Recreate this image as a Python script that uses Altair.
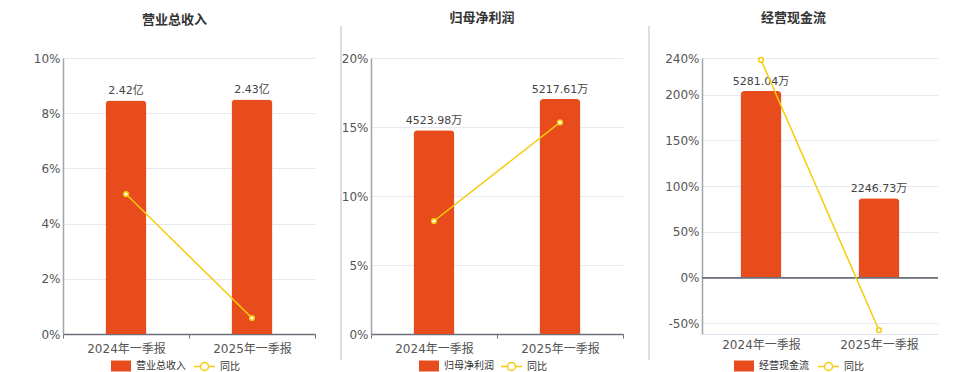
import altair as alt
import pandas as pd

periods = ["2024年一季报", "2025年一季报"]
titles = ["营业总收入", "归母净利润", "经营现金流"]
bar_values = [[2.42, 2.43], [4523.98, 5217.61], [5281.04, 2246.73]]
bar_labels = [["2.42亿", "2.43亿"], ["4523.98万", "5217.61万"], ["5281.04万", "2246.73万"]]
yoy = [[5.07, 0.58], [8.19, 15.33], [238.0, -57.46]]

pct_domains = [[0, 10], [0, 20], [-61.6, 240]]
pct_ticks = [[0, 2, 4, 6, 8, 10], [0, 5, 10, 15, 20], [-50, 0, 50, 100, 150, 200, 240]]
bar_domains = [[0, 2.86], [0, 6128], [-1593, 6215]]
widths = [252, 252, 236]
seps = [None, -30, -53]
title_offsets = [25, 0, 0]
legend_x = [(47, 130), (47, 129), (31, 115)]
LEG_Y = 297

RED = "#E84B1C"
YEL = "#F5CC0A"
FONT = "DejaVu Sans, Noto Sans CJK SC, sans-serif"
LEG_FONT = "Noto Sans CJK SC, DejaVu Sans, sans-serif"


def panel(i):
    df = pd.DataFrame({
        "period": periods,
        "value": bar_values[i],
        "label": bar_labels[i],
        "yoy": yoy[i],
        "name": titles[i],
        "tb": "同比",
    })
    base = alt.Chart(df)
    x_axis = alt.Axis(
        title=None, labelAngle=0, labelFontSize=12, labelColor="#555555", labelFont=FONT,
        labelPadding=5, tickBand="extent", ticks=(i < 2), tickSize=4, tickColor="#6E7079",
        domainColor="#6E7079" if i < 2 else "#E0E6F1", domainWidth=1.5 if i < 2 else 1, grid=False,
    )
    x = alt.X("period:N", sort=periods, scale=alt.Scale(paddingInner=0, paddingOuter=0), axis=x_axis)
    ybar = alt.Y("value:Q", scale=alt.Scale(domain=bar_domains[i], nice=False, zero=False), axis=None)

    bars = base.mark_bar(size=41, cornerRadiusTopLeft=4, cornerRadiusTopRight=4).encode(
        x=x, y=ybar,
        color=alt.Color("name:N", scale=alt.Scale(domain=[titles[i]], range=[RED]),
                        legend=alt.Legend(orient="none", legendX=legend_x[i][0], legendY=LEG_Y,
                                          title=None, direction="horizontal",
                                          symbolType="M-1,-0.55H1V0.55H-1Z", symbolSize=400,
                                          labelFontSize=10, labelColor="#333333", labelFont=LEG_FONT,
                                          symbolOpacity=1)),
    )
    text = base.mark_text(dy=-9, fontSize=11, color="#444444", font=FONT).encode(
        x=x, y=ybar, text="label:N")
    bar_layer = alt.layer(bars, text)

    ypct = alt.Y("yoy:Q", scale=alt.Scale(domain=pct_domains[i], nice=False, zero=False),
                 axis=alt.Axis(orient="left", title=None, values=pct_ticks[i], labelExpr="datum.value + '%'",
                               labelFontSize=12, labelColor="#555555", labelFont=FONT, labelPadding=3,
                               ticks=False, domainColor="#A0A4AC", domainWidth=1.5,
                               grid=True, gridColor="#E6E9F2", gridWidth=1))
    stroke_enc = alt.Stroke("tb:N", scale=alt.Scale(domain=["同比"], range=[YEL]),
                            legend=alt.Legend(orient="none", legendX=legend_x[i][1], legendY=LEG_Y,
                                              title=None, direction="horizontal",
                                              symbolType="M-1,0H-0.38M0.38,0H1M0.38,0A0.38,0.38,0,1,1,-0.38,0A0.38,0.38,0,1,1,0.38,0",
                                              symbolSize=441, symbolStrokeWidth=1.5, symbolFillColor="white",
                                              symbolStrokeColor=YEL,
                                              labelFontSize=10, labelColor="#333333", labelFont=LEG_FONT))
    line = base.mark_line(strokeWidth=1.5).encode(x=x, y=ypct, stroke=stroke_enc)
    pts = base.mark_point(filled=False, fill="white", fillOpacity=1, size=22, strokeWidth=1.5, opacity=1).encode(
        x=x, y=ypct, stroke=stroke_enc)
    pct_parts = []
    if i == 2:
        pct_parts.append(base.mark_rule(color="#6E7079", strokeWidth=1.5).encode(y=alt.datum(0)))
    pct_parts += [line, pts]
    pct_layer = alt.layer(*pct_parts)

    layers = [bar_layer, pct_layer]
    if seps[i] is not None:
        sep = alt.Chart(pd.DataFrame({"s": [0]})).mark_rule(color="#D3D3D3", strokeWidth=1.5).encode(
            x=alt.value(seps[i]), y=alt.value(-32), y2=alt.value(302))
        layers.append(sep)

    return alt.layer(*layers).resolve_scale(y="independent").properties(
        width=widths[i], height=276,
        title=alt.TitleParams(titles[i], anchor="middle", frame="bounds", fontSize=13, fontWeight="bold",
                              color="#333333", font=LEG_FONT, offset=title_offsets[i]),
    )


chart = alt.hconcat(panel(0), panel(1), panel(2), spacing=24).properties(
    padding={"left": 25, "top": 4, "right": 0, "bottom": 0}
).configure_view(stroke=None).resolve_scale(color="independent", stroke="independent").resolve_legend(
    color="independent", stroke="independent")

chart.save("out.html", embed_options={"renderer": "svg", "actions": False})
